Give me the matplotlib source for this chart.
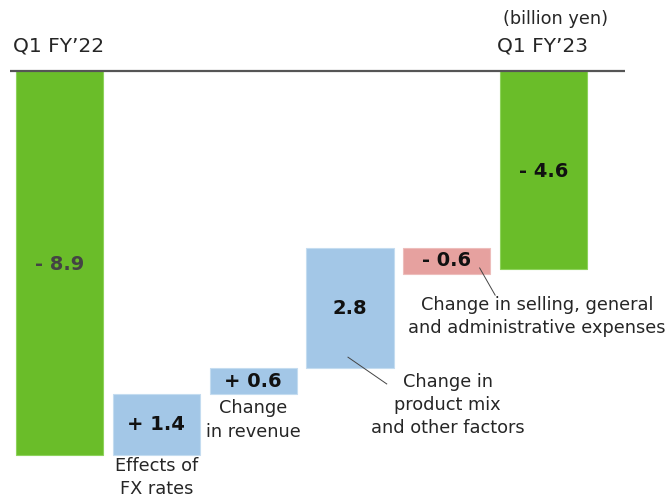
import matplotlib.pyplot as plt
import numpy as np

plt.rcParams["font.family"] = ["DejaVu Sans"]

# data (billion yen)
start_label = "Q1 FY\u201922"
end_label = "Q1 FY\u201923"
start_value = -8.9
end_value = -4.6
steps = [1.4, 0.6, 2.8, -0.6]
step_labels = ["+ 1.4", "+ 0.6", "2.8", "- 0.6"]
step_names = ["Effects of\nFX rates", "Change\nin revenue",
              "Change in\nproduct mix\nand other factors",
              "Change in selling, general\nand administrative expenses"]

green = "#6ABD29"
blue = "#A3C7E7"
pink = "#E6A19F"
txt = "#262626"

fig = plt.figure(figsize=(6.69, 4.96), dpi=100)
ax = fig.add_axes([0, 0, 1, 1])
ax.set_xlim(-0.615, 6.296)
ax.set_ylim(-9.86, 1.647)
ax.set_axis_off()

w = 0.9
# start and end totals
ax.bar(0, start_value, width=w, color=green, edgecolor="#8ED25C", linewidth=0.8)
ax.bar(5, end_value, width=w, color=green, edgecolor="#8ED25C", linewidth=0.8)

# steps
bottoms = start_value + np.concatenate([[0], np.cumsum(steps)[:-1]])
for i, (b, s) in enumerate(zip(bottoms, steps)):
    c = blue if s > 0 else pink
    ax.bar(i + 1, s, bottom=b, width=w, color=c,
           edgecolor="#C4DCF0" if s > 0 else "#EDBDBB", linewidth=0.8)

# zero line
ax.plot([-0.51, 5.84], [0, 0], color="#555555", lw=1.6, solid_capstyle="butt")

# value labels
ax.text(0, start_value / 2 - 0.05, "- 8.9", ha="center", va="center", fontsize=14,
        fontweight="bold", color="#444444")
ax.text(5, -2.34, "- 4.6", ha="center", va="center", fontsize=14,
        fontweight="bold", color="#111111")
for i, (b, s, lab) in enumerate(zip(bottoms, steps, step_labels)):
    ax.text(i + 1, b + s / 2, lab, ha="center", va="center", fontsize=14,
            fontweight="bold", color="#111111")

# category labels
ax.text(-0.48, 0.57, start_label, ha="left", va="center", fontsize=14.5, color=txt)
ax.text(4.52, 0.57, end_label, ha="left", va="center", fontsize=14.5, color=txt)
ax.text(4.58, 1.2, "(billion yen)", ha="left", va="center", fontsize=12.8, color=txt)

# step names
name_kw = dict(ha="center", va="center", fontsize=12.8, color=txt, linespacing=1.38)
ax.text(1, -9.43, step_names[0], **name_kw)
ax.text(2, -8.10, step_names[1], **name_kw)
ax.text(4.01, -7.75, step_names[2], **name_kw)
ax.text(4.93, -5.70, step_names[3], **name_kw)

# leader lines
ax.plot([2.98, 3.38], [-6.64, -7.26], color="#444444", lw=0.7)
ax.plot([4.34, 4.5], [-4.57, -5.20], color="#444444", lw=0.7)

fig.savefig("out.png", dpi=100)
